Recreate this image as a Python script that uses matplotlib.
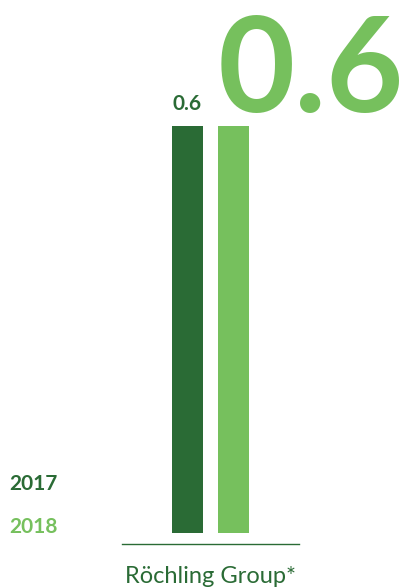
import matplotlib.pyplot as plt

# values per year
years = ["2017", "2018"]
values = [0.6, 0.6]
colors = ["#2a6b35", "#76c05d"]
group_label = "Röchling Group*"

plt.rcParams['font.family'] = ['Lato', 'DejaVu Sans']

fig = plt.figure(figsize=(4.03, 5.88), dpi=100)
ax = fig.add_axes([122 / 403, 55 / 588, 177 / 403, 407 / 588])

pos = [0, 1]
width = 0.674
ax.bar(pos, values, width=width, color=colors)
ax.set_xlim(-1.424, 2.424)
ax.set_ylim(0, 0.6)
ax.axis('off')

px = 0.6 / 407  # one pixel in data units
ax.axhline(-11 * px, color=colors[0], lw=1, clip_on=False)
ax.text(0.5, -50 * px, group_label, ha='center', va='baseline',
        fontsize=17, color=colors[0])

# value for 2017 above its bar, 2018 as the big number
ax.text(pos[0], values[0] + 16 * px, f"{values[0]:.1f}", ha='center',
        va='baseline', fontsize=15, fontweight='bold', color=colors[0])
ax.text(pos[1] - width / 2, values[1] + 14 * px, f"{values[1]:.1f}", ha='left',
        va='baseline', fontsize=96, fontweight='bold', color=colors[1],
        clip_on=False)

# year legend
fig.text(9 / 403, 98 / 588, years[0], ha='left', va='baseline',
         fontsize=15, fontweight='bold', color=colors[0])
fig.text(9 / 403, 55 / 588, years[1], ha='left', va='baseline',
         fontsize=15, fontweight='bold', color=colors[1])

fig.savefig("out.png", dpi=100)
